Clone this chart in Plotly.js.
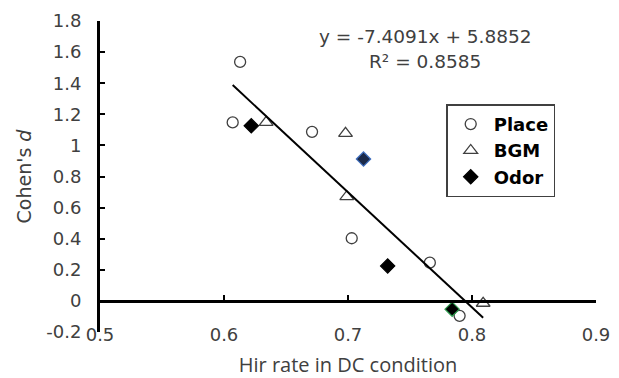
<!DOCTYPE html>
<html>
<head>
<meta charset="utf-8">
<script src="https://cdn.plot.ly/plotly-3.0.1.min.js"></script>
<style>html,body{margin:0;padding:0;background:#fff;}#chart{width:619px;height:378px;}</style>
</head>
<body>
<div id="chart"></div>
<script>
// Data
var placeX = [0.613, 0.607, 0.671, 0.703, 0.766, 0.790];
var placeY = [1.537, 1.148, 1.087, 0.403, 0.246, -0.096];
var bgmX = [0.634, 0.698, 0.699, 0.809];
var bgmY = [1.148, 1.077, 0.670, -0.015];
var odorX = [0.622, 0.7125, 0.732, 0.784];
var odorY = [1.126, 0.912, 0.225, -0.053];
var seriesNames = ["Place", "BGM", "Odor"];
var trendSlope = -7.4091;
var trendIntercept = 5.8852;
var rSquared = 0.8585;
var yTickVals = [-0.2, 0, 0.2, 0.4, 0.6, 0.8, 1, 1.2, 1.4, 1.6, 1.8];
var yTickText = ["-0.2", "0", "0.2", "0.4", "0.6", "0.8", "1", "1.2", "1.4", "1.6", "1.8"];
var xTickVals = [0.5, 0.6, 0.7, 0.8, 0.9];
var xTickText = ["0.5", "0.6", "0.7", "0.8", "0.9"];

var allX = placeX.concat(bgmX, odorX);
var xMin = Math.min.apply(null, allX);
var xMax = Math.max.apply(null, allX);
var trendX = [xMin, xMax];
var trendY = trendX.map(function (v) { return trendSlope * v + trendIntercept; });

var tickFont = {family: "DejaVu Sans", size: 18, color: "#404040"};

var traces = [
  {
    x: placeX, y: placeY, name: seriesNames[0], type: "scatter", mode: "markers",
    marker: {symbol: "circle-open", size: 11, color: "#404040", line: {width: 1.3}}
  },
  {
    x: bgmX, y: bgmY, name: seriesNames[1], type: "scatter", mode: "markers",
    marker: {symbol: "triangle-up-open", size: 12, color: "#404040", line: {width: 1.3}}
  },
  {
    x: odorX, y: odorY, name: seriesNames[2], type: "scatter", mode: "markers",
    marker: {symbol: "diamond", size: 11, color: ["#000", "#1b2a4a", "#000", "#000"],
             line: {width: 1.2, color: ["#000", "#3f6fc0", "#000", "#2e9a4e"]}}
  },
  {
    x: trendX, y: trendY, type: "scatter", mode: "lines", showlegend: false,
    line: {color: "#000", width: 2}, hoverinfo: "skip"
  }
];

var layout = {
  width: 619, height: 378,
  margin: {l: 100, r: 23, t: 21, b: 46, pad: 0},
  paper_bgcolor: "#fff", plot_bgcolor: "#fff",
  showlegend: true,
  xaxis: {
    range: [0.5, 0.9], tickvals: xTickVals, ticktext: xTickText,
    anchor: "free", position: 0.1, side: "bottom",
    showline: true, linecolor: "#000", linewidth: 3,
    ticks: "inside", ticklen: 5, tickwidth: 2, tickcolor: "#000",
    ticklabelstandoff: 16,
    showgrid: false, zeroline: false, tickfont: tickFont,
    title: {text: "Hir rate in DC condition", font: {family: "Open Sans", size: 20, color: "#404040"}, standoff: 22}
  },
  yaxis: {
    range: [-0.2, 1.8], tickvals: yTickVals, ticktext: yTickText,
    showline: true, linecolor: "#000", linewidth: 3,
    ticks: "inside", ticklen: 5, tickwidth: 2, tickcolor: "#000",
    ticklabelstandoff: 12,
    showgrid: false, zeroline: false, tickfont: tickFont,
    title: {text: "Cohen's <i>d</i>", font: {family: "DejaVu Sans", size: 19, color: "#404040"}, standoff: 10}
  },
  legend: {
    x: 0.698, y: 0.732, xanchor: "left", yanchor: "top",
    bordercolor: "#404040", borderwidth: 1.5, bgcolor: "#fff",
    font: {family: "DejaVu Sans", size: 18, color: "#000", weight: "bold"},
    itemwidth: 36,
    tracegroupgap: 0
  },
  annotations: [
    {xref: "paper", yref: "paper", x: 0.656, y: 0.951, xanchor: "center", yanchor: "middle",
     text: "y = " + trendSlope.toFixed(4) + "x + " + trendIntercept.toFixed(4), showarrow: false,
     font: {family: "DejaVu Sans", size: 18.5, color: "#404040"}},
    {xref: "paper", yref: "paper", x: 0.656, y: 0.871, xanchor: "center", yanchor: "middle",
     text: "R\u00b2 = " + rSquared.toFixed(4), showarrow: false,
     font: {family: "DejaVu Sans", size: 18.5, color: "#404040"}}
  ]
};

Plotly.newPlot("chart", traces, layout, {staticPlot: true, displayModeBar: false});
</script>
</body>
</html>
